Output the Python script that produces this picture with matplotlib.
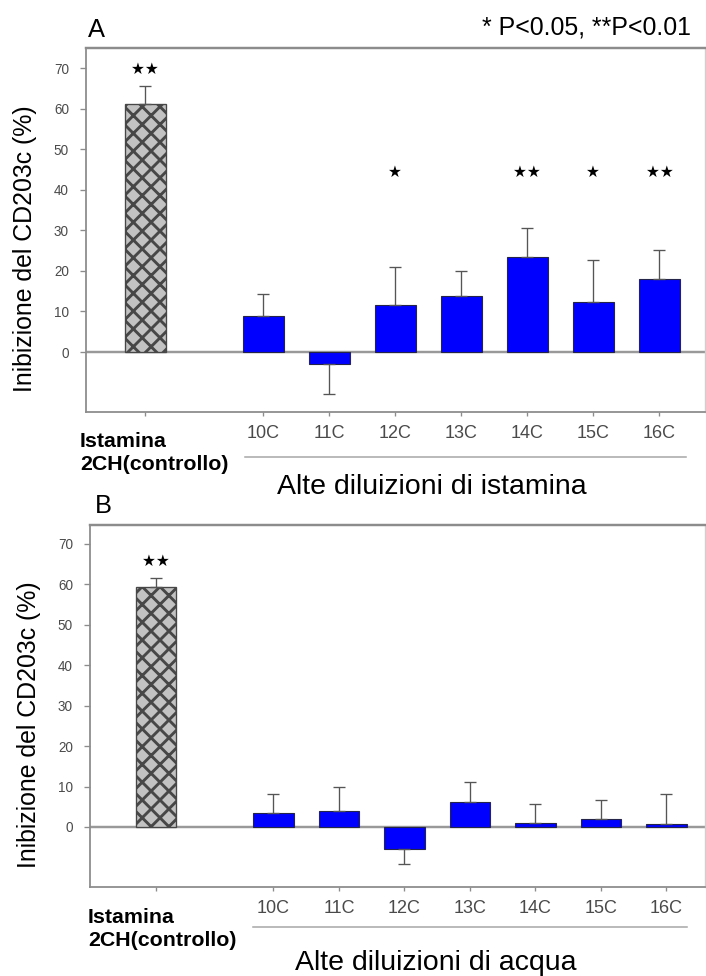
import matplotlib
matplotlib.use('Agg')
import matplotlib.pyplot as plt
from matplotlib.lines import Line2D

# data
categories = ['10C', '11C', '12C', '13C', '14C', '15C', '16C']
control_label = 'Istamina\n2CH(controllo)'

# A: alte diluizioni di istamina
control_a = 61.1
control_err_a = 4.5
values_a = [8.9, -3.0, 11.7, 13.8, 23.4, 12.3, 17.9]
errors_a = [5.4, 7.4, 9.3, 6.3, 7.1, 10.3, 7.3]
stars_a = ['', '', '*', '', '**', '*', '**']
control_star_a = '**'

# B: alte diluizioni di acqua
control_b = 59.3
control_err_b = 2.2
values_b = [3.4, 4.0, -5.5, 6.3, 0.9, 2.0, 0.8]
errors_b = [4.8, 6.0, 3.7, 4.8, 4.8, 4.7, 7.3]
stars_b = ['', '', '', '', '', '', '']
control_star_b = '**'

DPI = 160
plt.rcParams['font.family'] = ['Liberation Sans', 'DejaVu Sans']
plt.rcParams['hatch.linewidth'] = 1.3
plt.rcParams['hatch.color'] = '#4a4a4a'

GAP = 1.79     # distance control -> first dilution
W = 0.62       # bar width
GREY = '#8c8c8c'


def px(x, y):
    # pixel position -> figure fraction
    return x / 706, 1 - y / 976


def draw_panel(ax, control, control_err, values, errors, stars, control_star,
               star_level, xlim, ylim):
    pos = [GAP + i for i in range(len(values))]

    ax.axhline(0, color='#999999', lw=1.1, zorder=1)
    ax.bar(0, control, width=W, color='#c2c2c2', edgecolor='#474747',
           hatch='xxx', lw=0.6, zorder=2)
    ax.bar(pos, values, width=W, color='#0000ff', edgecolor='#25254a',
           lw=0.5, zorder=2)

    # one-sided error bars, pointing away from zero
    lo = [e if v < 0 else 0 for v, e in zip(values, errors)]
    hi = [e if v >= 0 else 0 for v, e in zip(values, errors)]
    ax.errorbar(pos, values, yerr=[lo, hi], fmt='none', ecolor='#555555',
                elinewidth=0.6, capsize=2.8, capthick=0.6, zorder=3)
    ax.errorbar([0], [control], yerr=[[0], [control_err]], fmt='none',
                ecolor='#555555', elinewidth=0.6, capsize=2.8, capthick=0.6,
                zorder=3)

    ax.text(0, control + control_err + 4.1, control_star.replace('*', '★'),
            ha='center', va='center', fontsize=7, family='DejaVu Sans')
    for p, s in zip(pos, stars):
        if s:
            ax.text(p, star_level, s.replace('*', '★'), ha='center',
                    va='center', fontsize=7, family='DejaVu Sans')

    ax.set_xlim(*xlim)
    ax.set_ylim(*ylim)
    ax.set_yticks(range(0, 71, 10))
    ax.set_xticks([0] + pos)
    ax.set_xticklabels([''] + categories)
    ax.tick_params(axis='y', length=2.7, width=0.6, pad=5.0, color=GREY,
                   labelsize=6.1, labelcolor='#4a4a4a')
    ax.tick_params(axis='x', length=1.8, width=0.6, pad=4.2, color=GREY,
                   labelsize=8.1, labelcolor='#4a4a4a')
    for side in ['left', 'bottom', 'top']:
        ax.spines[side].set_color(GREY)
        ax.spines[side].set_linewidth(0.8)
    ax.spines['top'].set_linewidth(1.1)
    ax.spines['right'].set_color('#cfcfcf')
    ax.spines['right'].set_linewidth(0.6)


fig = plt.figure(figsize=(706 / DPI, 976 / DPI), dpi=DPI)

ax_a = fig.add_axes([86 / 706, 1 - 412 / 976, 619 / 706, 364 / 976])
draw_panel(ax_a, control_a, control_err_a, values_a, errors_a, stars_a,
           control_star_a, 44.3, (-0.894, 8.48), (-14.8, 75.0))

ax_b = fig.add_axes([90 / 706, 1 - 887 / 976, 615 / 706, 362 / 976])
draw_panel(ax_b, control_b, control_err_b, values_b, errors_b, stars_b,
           control_star_b, 44.3, (-1.01, 8.38), (-14.85, 74.7))

# panel letters and legend
fig.text(*px(88, 30), 'A', fontsize=11.5, ha='left', va='center')
fig.text(*px(691, 28), '* P<0.05, **P<0.01', fontsize=11.2, ha='right',
         va='center')
fig.text(*px(95, 506), 'B', fontsize=11.5, ha='left', va='center')

# y labels
fig.text(*px(25, 249), 'Inibizione del CD203c (%)', rotation=90,
         fontsize=11.2, ha='center', va='center')
fig.text(*px(29, 725), 'Inibizione del CD203c (%)', rotation=90,
         fontsize=11.2, ha='center', va='center')

# control labels
fig.text(*px(80, 453), control_label, fontsize=9.6, fontweight='bold',
         ha='left', va='center', linespacing=1.3)
fig.text(*px(88, 929), control_label, fontsize=9.6, fontweight='bold',
         ha='left', va='center', linespacing=1.3)

# group brackets
for x0, x1, y in [(245, 686, 457), (253, 687, 927)]:
    (fx0, fy), (fx1, _) = px(x0, y), px(x1, y)
    fig.add_artist(Line2D([fx0, fx1], [fy, fy], color='#a8a8a8', lw=0.7))

fig.text(*px(432, 487), 'Alte diluizioni di istamina', fontsize=12.8,
         ha='center', va='center')
fig.text(*px(436, 963), 'Alte diluizioni di acqua', fontsize=12.8,
         ha='center', va='center')

fig.savefig('out.png', dpi=DPI)
plt.close(fig)
